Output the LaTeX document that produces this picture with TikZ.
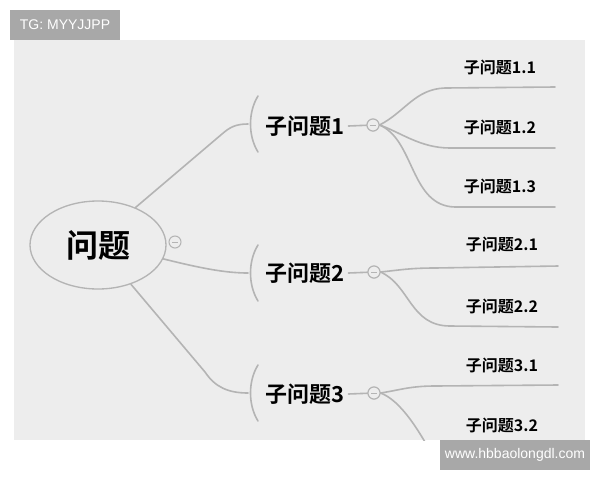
\documentclass[tikz,border=0pt]{standalone}
\usepackage{fontspec}
\newfontfamily\cjk[BoldFont={Noto Sans CJK SC Bold}]{Noto Sans CJK SC}
\newfontfamily\tagfont{Liberation Sans}
\definecolor{paper}{HTML}{EDEDED}
\definecolor{twig}{HTML}{B4B4B4}
\definecolor{badge}{HTML}{A8A8A8}
\usetikzlibrary{shapes.geometric}
\tikzset{
  branch/.style={draw=twig, line width=1.2pt, line cap=round},
  fold/.style={circle, draw=twig, fill=paper, line width=0.8pt, minimum size=9pt, inner sep=0pt,
    path picture={\draw[twig, line width=0.7pt] ([xshift=-2.2pt]path picture bounding box.center) -- ([xshift=2.2pt]path picture bounding box.center);}},
  topic/.style={inner sep=0.75pt, font=\cjk\bfseries\fontsize{16.5}{16.5}\selectfont},
  leaf/.style={inner sep=0.75pt, font=\cjk\bfseries\fontsize{12}{12}\selectfont},
  tagbox/.style={fill=badge, text=white, inner sep=0pt, font=\tagfont\fontsize{10.5}{10.5}\selectfont}
}
\begin{document}
\begin{tikzpicture}[x=0.75pt,y=0.75pt,yscale=-1,xscale=1]
\useasboundingbox (0,0) rectangle (600,480);

%Shape: Rectangle [id:paper]
\fill [paper] (14,40) rectangle (585,440);

%Shape: Ellipse [id:root]
\node [ellipse, draw=twig, line width=1pt, minimum width=102pt, minimum height=66pt, font=\cjk\bfseries\fontsize{24}{24}\selectfont] (root) at (98,245) {问题};
\node [fold] (f0) at (175,242) {};

% Text Node
\node [topic] (t1) at (305,126) {子问题1};
\node [topic] (t2) at (305,273) {子问题2};
\node [topic] (t3) at (305,394) {子问题3};
\coordinate (b1) at (248,124);
\coordinate (b2) at (248,273);
\coordinate (b3) at (248,393);
\node [fold] (f1) at (373,125) {};
\node [fold] (f2) at (374,272) {};
\node [fold] (f3) at (374,393) {};

% Text Node
\node [leaf] (l11) at (500,67) {子问题1.1};
\node [leaf] (l12) at (500,127) {子问题1.2};
\node [leaf] (l13) at (500,186) {子问题1.3};
\node [leaf] (l21) at (502,244) {子问题2.1};
\node [leaf] (l22) at (502,306) {子问题2.2};
\node [leaf] (l31) at (502,365) {子问题3.1};
\node [leaf] (l32) at (502,425) {子问题3.2};

%Straight Lines [id:root-branches]
\draw [branch] (root.45) -- (222,134) .. controls (230,127) and (236,124) .. (b1);
\draw [branch] (root.-12) .. controls (200,268) and (225,273) .. (b2);
\draw [branch] (root.-50) -- (205,372) .. controls (215,387) and (228,393) .. (b3);
%Shape: Brackets
\foreach \b in {b1,b2,b3}
  \draw [branch] ([shift={(10,-28)}]\b) .. controls ([shift={(0,-12)}]\b) and ([shift={(0,12)}]\b) .. ([shift={(10,28)}]\b);

%Straight Lines [id:folds]
\draw [branch] ([xshift=2pt]t1.east) -- (f1);
\draw [branch] ([xshift=2pt]t2.east) -- (f2);
\draw [branch] ([xshift=2pt]t3.east) -- (f3);

%Straight Lines [id:leaf-branches]
\coordinate (e11) at (555,87);
\coordinate (e12) at (555,148);
\coordinate (e13) at (555,207);
\coordinate (e21) at (558,266);
\coordinate (e22) at (558,327);
\coordinate (e31) at (558,385);
\coordinate (e32) at (440,470);
\begin{scope}
\clip (14,40) rectangle (585,440);
\draw [branch] (f1.east) .. controls (405,112) and (415,89) .. (445,88) -- (e11);
\draw [branch] (f1.east) .. controls (400,132) and (420,148) .. (450,148) -- (e12);
\draw [branch] (f1.east) .. controls (415,140) and (410,206) .. (455,207) -- (e13);
\draw [branch] (f2.east) .. controls (400,270) and (410,268) .. (435,268) -- (e21);
\draw [branch] (f2.east) .. controls (410,285) and (410,326) .. (450,326) -- (e22);
\draw [branch] (f3.east) .. controls (400,390) and (410,386) .. (435,386) -- (e31);
\draw [branch] (f3.east) .. controls (400,400) and (420,430) .. (e32);
\end{scope}
\node [fold] at (f1) {};
\node [fold] at (f2) {};
\node [fold] at (f3) {};

%Shape: Rectangle [id:tags]
\node [tagbox, minimum width=82.5pt, minimum height=22.5pt] (tg) at (65,25) {TG: MYYJJPP};
\node [tagbox, minimum width=112.5pt, minimum height=22.5pt] (url) at (515,455) {www.hbbaolongdl.com};

\end{tikzpicture}
\end{document}
